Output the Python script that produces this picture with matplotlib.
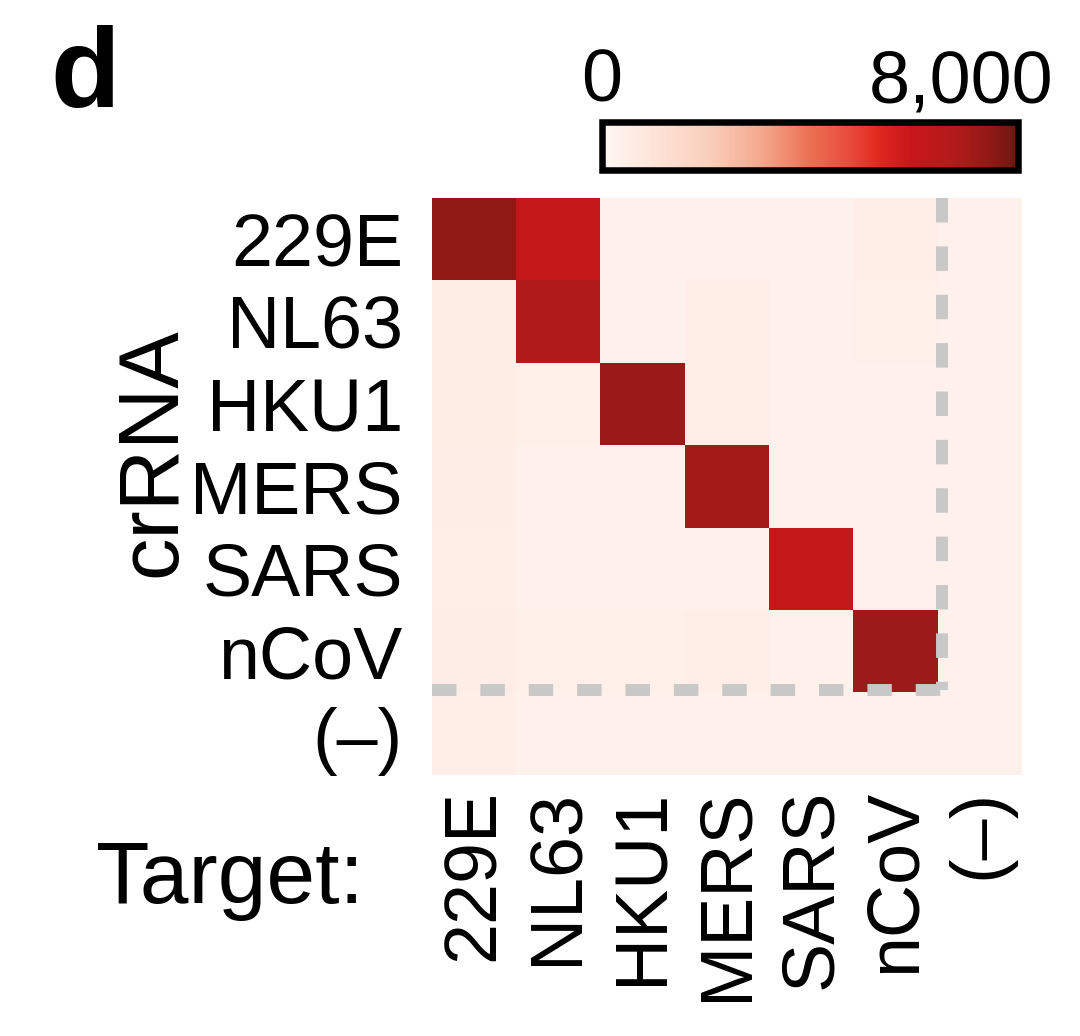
import matplotlib
matplotlib.use("Agg")
import matplotlib.pyplot as plt
import numpy as np
from matplotlib.colors import LinearSegmentedColormap, Normalize

plt.rcParams['font.family'] = ['Liberation Sans', 'DejaVu Sans']

crrna = ["229E", "NL63", "HKU1", "MERS", "SARS", "nCoV", "(\u2013)"]
targets = ["229E", "NL63", "HKU1", "MERS", "SARS", "nCoV", "(\u2013)"]

# rows = crRNA, columns = target
signal = np.array([
    [7450, 6100,  300,  300,  300,  420,  300],
    [ 520, 6840,  300,  460,  300,  380,  300],
    [ 500,  380, 7300,  420,  300,  330,  300],
    [ 470,  300,  300, 7070,  300,  330,  300],
    [ 460,  300,  300,  300, 6120,  330,  300],
    [ 480,  360,  360,  420,  300, 7230,  300],
    [ 450,  320,  300,  320,  300,  300,  300],
])
vmin, vmax = 0, 8000
cbar_labels = ["0", "8,000"]

cmap = LinearSegmentedColormap.from_list("fluor", [
    (0.00, "#fff7f3"),
    (0.12, "#fde4d9"),
    (0.25, "#fad0bd"),
    (0.38, "#f4a98e"),
    (0.50, "#ec7052"),
    (0.60, "#e8493a"),
    (0.66, "#e12a1e"),
    (0.74, "#c8161b"),
    (0.85, "#b21b1a"),
    (0.93, "#931a16"),
    (1.00, "#6a1610"),
])

W, H = 1080, 1036
fig = plt.figure(figsize=(W / 100, H / 100), dpi=100)

def fx(px):
    return px / W

def fy(py):
    return 1 - py / H

ax = fig.add_axes([fx(432), fy(775), fx(1022) - fx(432), fy(198) - fy(775)])
norm = Normalize(vmin=vmin, vmax=vmax)
im = ax.imshow(signal, cmap=cmap, norm=norm, aspect='auto', interpolation='nearest')
for s in ax.spines.values():
    s.set_visible(False)

ax.set_xticks(range(len(targets)))
ax.set_xticklabels(targets, rotation=90, fontsize=53, va='top', ha='center')
ax.set_yticks(range(len(crrna)))
ax.set_yticklabels(crrna, fontsize=53)
ax.tick_params(axis='x', length=0, pad=10)
ax.tick_params(axis='y', length=0, pad=21)

# dashed separators
dash_kw = dict(color='#c8c8c8', linewidth=8.6, linestyle=(0, (2.05, 2.0)),
               solid_capstyle='butt', dash_capstyle='butt', zorder=3)
ax.plot([5.55, 5.55], [-0.5, 5.47], **dash_kw)
ax.plot([-0.5, 5.58], [5.47, 5.47], **dash_kw)
ax.set_xlim(-0.5, 6.5)
ax.set_ylim(6.5, -0.5)

# colorbar
cax = fig.add_axes([fx(602), fy(170), fx(1018) - fx(602), fy(122) - fy(170)])
cb = fig.colorbar(im, cax=cax, orientation='horizontal')
cb.outline.set_linewidth(4.7)
cb.outline.set_edgecolor('black')
cax.set_xticks([])
cax.tick_params(length=0)
fig.text(fx(602), fy(102), cbar_labels[0], fontsize=53, ha='center', va='baseline')
fig.text(fx(1053), fy(102), cbar_labels[1], fontsize=53, ha='right', va='baseline')

# labels
fig.text(fx(96), fy(903), "Target:", fontsize=63, ha='left', va='baseline')
fig.text(fx(153), fy(452), "crRNA", fontsize=61, rotation=90, ha='center', va='center')
fig.text(fx(50), fy(107), "d", fontsize=82, fontweight='bold', ha='left', va='baseline')

fig.savefig("out.png", dpi=100)
